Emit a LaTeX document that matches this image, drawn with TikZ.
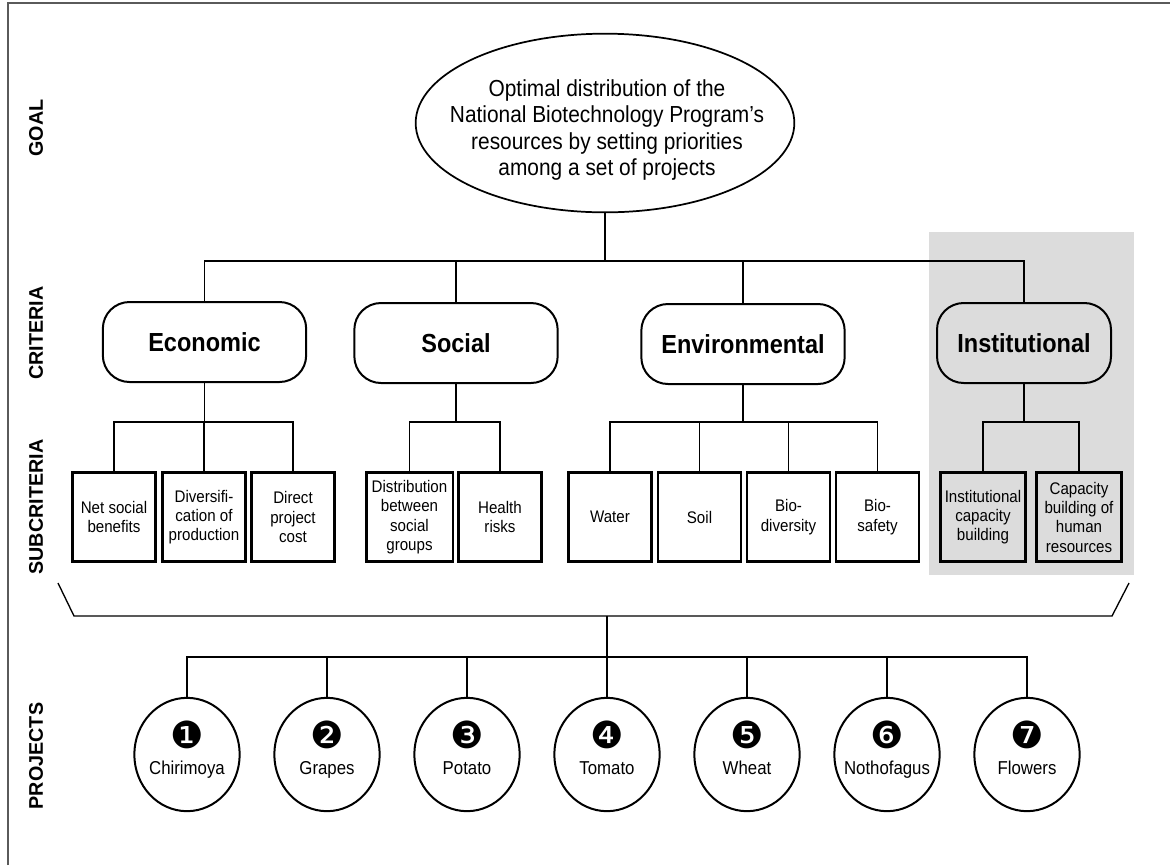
\documentclass[tikz,border=0pt]{standalone}
\usepackage{fontspec}
\setmainfont{Liberation Sans}[FakeStretch=0.9]
\newfontfamily\plainsans{Liberation Sans}
\newfontfamily\dingfont{DejaVu Sans}
\usetikzlibrary{shapes.geometric}
\definecolor{graybg}{RGB}{220,220,220}
\definecolor{framecol}{RGB}{90,90,90}
\begin{document}
\begin{tikzpicture}[x=0.75pt,y=-0.75pt,
  conn/.style={line width=1pt, black},
  critbox/.style={draw, line width=1.5pt, rounded corners=20pt, minimum width=152.5pt, minimum height=60pt, inner sep=0pt, font=\fontsize{19.6}{22}\selectfont\bfseries},
  subbox/.style={draw, line width=1.9pt, minimum width=62.5pt, minimum height=67pt, inner sep=0pt, align=center, font=\fontsize{12.6}{14.5}\selectfont},
  proj/.style={draw, ellipse, line width=1.5pt, minimum width=79pt, minimum height=85pt, inner sep=0pt},
  numtxt/.style={inner sep=0pt, font=\dingfont\fontsize{28}{28}\selectfont},
  projtxt/.style={inner sep=0pt, anchor=base, font=\fontsize{14}{16}\selectfont},
  side/.style={rotate=90, inner sep=0pt, font=\plainsans\fontsize{14.8}{16}\selectfont\bfseries},
]
\path[use as bounding box] (0,0) rectangle (1170,865);
% gray highlight
\fill[graybg] (929,232) rectangle (1134,575);
% frame
\draw[framecol, line width=0.8pt] (8,865) -- (8,3) -- (1170,3);

% side labels
\node[side] (lgoal) at (36,128) {GOAL};
\node[side] (lcrit) at (36,333) {CRITERIA};
\node[side] (lsub) at (36,507) {SUBCRITERIA};
\node[side] (lproj) at (36,756) {PROJECTS};

% goal
\node[draw, ellipse, line width=1.3pt, minimum width=284pt, minimum height=134pt, inner sep=0pt] (goal) at (605,123) {};
\node[align=center, inner sep=0pt, font=\fontsize{17.4}{19.9}\selectfont] (goaltext) at (607,130) {Optimal distribution of the\\National Biotechnology Program's\\resources by setting priorities\\among a set of projects};

% criteria
\node[critbox] (eco) at (204.5,342) {Economic};
\node[critbox] (soc) at (456,343) {Social};
\node[critbox] (env) at (743,344) {Environmental};
\node[critbox, fill=graybg, minimum width=130.5pt] (inst) at (1024,343) {Institutional};

% level coordinates
\coordinate (lvl1) at (0,261);
\coordinate (lvl2) at (0,422);
\coordinate (lvl4) at (0,657);

% subcriteria
\node[subbox] (e1) at (114,517) {Net social\\benefits};
\node[subbox] (e2) at (204,517) {Diversifi-\\cation of\\production};
\node[subbox] (e3) at (293,517) {Direct\\project\\cost};
\node[subbox, minimum width=64.9pt] (s1) at (409.5,517) {Distribution\\between\\social\\groups};
\node[subbox] (s2) at (500,517) {Health\\risks};
\node[subbox] (v1) at (610,517) {Water};
\node[subbox] (v2) at (699.5,517) {Soil};
\node[subbox] (v3) at (788.5,517) {Bio-\\diversity};
\node[subbox] (v4) at (877.5,517) {Bio-\\safety};
\node[subbox, fill=graybg, minimum width=64pt] (i1) at (983,517) {Institutional\\capacity\\building};
\node[subbox, fill=graybg, minimum width=64pt] (i2) at (1079,517) {Capacity\\building of\\human\\resources};

% goal -> criteria
\draw[conn] (goal.south) -- (goal.south |- lvl1);
\draw[conn] (eco.north) -- (eco.north |- lvl1) -- (inst.north |- lvl1) -- (inst.north);
\draw[conn] (soc.north) -- (soc.north |- lvl1);
\draw[conn] (env.north) -- (env.north |- lvl1);

% criteria -> subcriteria
\draw[conn] (eco.south) -- (eco.south |- lvl2);
\draw[conn] (e1.north) -- (e1.north |- lvl2) -- (e3.north |- lvl2) -- (e3.north);
\draw[conn] (e2.north) -- (e2.north |- lvl2);
\draw[conn] (soc.south) -- (soc.south |- lvl2);
\draw[conn] (s1.north) -- (s1.north |- lvl2) -- (s2.north |- lvl2) -- (s2.north);
\draw[conn] (env.south) -- (env.south |- lvl2);
\draw[conn] (v1.north) -- (v1.north |- lvl2) -- (v4.north |- lvl2) -- (v4.north);
\draw[conn] (v2.north) -- (v2.north |- lvl2);
\draw[conn] (v3.north) -- (v3.north |- lvl2);
\draw[conn] (inst.south) -- (inst.south |- lvl2);
\draw[conn] (i1.north) -- (i1.north |- lvl2) -- (i2.north |- lvl2) -- (i2.north);

% bracket
\coordinate (bl) at (58,583);
\coordinate (blc) at (74,616);
\coordinate (brc) at (1112,616);
\coordinate (br) at (1129,583);
\draw[conn] (bl) -- (blc) -- (brc) -- (br);

% projects
\foreach \i/\x/\n/\t in {1/187/❶/Chirimoya, 2/327/❷/Grapes, 3/467/❸/Potato, 4/607/❹/Tomato, 5/747/❺/Wheat, 6/887/❻/Nothofagus, 7/1027/❼/Flowers}{
  \node[proj] (p\i) at (\x,754.5) {};
  \node[numtxt] (n\i) at (\x,735) {\n};
  \node[projtxt] (t\i) at (\x,774) {\t};
}
\draw[conn] (p4.north |- blc) -- (p4.north);
\draw[conn] (p1.north) -- (p1.north |- lvl4) -- (p7.north |- lvl4) -- (p7.north);
\foreach \i in {2,3,5,6}{
  \draw[conn] (p\i.north) -- (p\i.north |- lvl4);
}
\end{tikzpicture}
\end{document}
